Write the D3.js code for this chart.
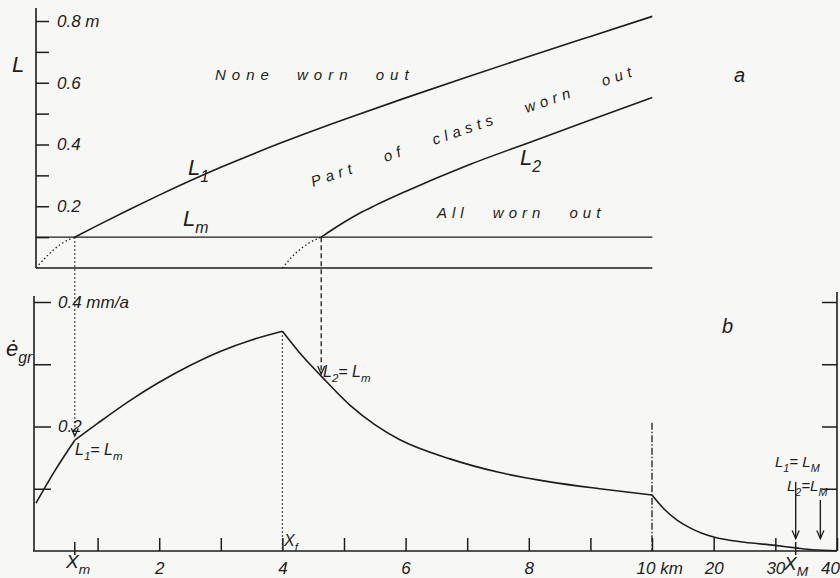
<!DOCTYPE html>
<html>
<head>
<meta charset="utf-8">
<script src="https://cdn.jsdelivr.net/npm/d3@7"></script>
<style>
  body { margin: 0; background: #f7f7f5; }
  svg { display: block; font-family: "Liberation Sans", Arial, sans-serif; font-style: italic; }
  text { fill: #1d1d1d; }
</style>
</head>
<body>
<svg id="chart" width="840" height="578"></svg>
<script>
// ---- data ----
// panel a: clast size L (m) against distance (km)
const lTicks = [0.1, 0.2, 0.3, 0.4, 0.5, 0.6, 0.7, 0.8];
const lTickLabels = ["", "0.2", "", "0.4", "", "0.6", "", "0.8 m"];
const Lm = 0.1;

const l1DotKm = [0, 0.2, 0.4, 0.63];
const l1DotLen = [0, 0.043, 0.077, 0.1];
const l1Km = [0.63, 1, 1.5, 2, 3, 4, 5, 6, 7, 8, 9, 10.05];
const l1Len = [0.1, 0.138, 0.188, 0.236, 0.326, 0.407, 0.481, 0.551, 0.619, 0.685, 0.75, 0.815];

const l2DotKm = [4.0, 4.2, 4.4, 4.63];
const l2DotLen = [0, 0.045, 0.077, 0.1];
const l2Km = [4.63, 5, 5.26, 5.5, 6, 7, 8, 9, 10.05];
const l2Len = [0.1, 0.148, 0.178, 0.202, 0.248, 0.332, 0.406, 0.479, 0.552];

// panel b: erosion rate (mm/a) against distance (km)
const eTicks = [0.1, 0.2, 0.3, 0.4];
const eTickLabels = ["", "0.2", "", "0.4 mm/a"];
const eKm = [0, 0.3, 0.63, 1, 1.5, 2, 2.5, 3, 3.5, 4.0, 4.3, 4.63, 5.1, 5.5, 5.9, 6.72, 7.53, 8.34, 9.15, 10,
             12, 14, 16, 18, 20, 25, 30, 33.3, 36, 40];
const eRate = [0.077, 0.128, 0.178, 0.205, 0.240, 0.271, 0.298, 0.321, 0.339, 0.353, 0.316, 0.281, 0.234, 0.203, 0.179, 0.148, 0.126, 0.111, 0.100, 0.090,
               0.067, 0.050, 0.038, 0.029, 0.0225, 0.014, 0.009, 0.005, 0.002, 0.0005];
const eBreaks = [0.63, 4.0, 10];

const xTicks = [1, 2, 3, 4, 5, 6, 7, 8, 9, 10, 20, 30, 40];
const xTickLabels = ["", "2", "", "4", "", "6", "", "8", "", "10 km", "20", "30", "40"];

const xm = 0.63, xf = 4.0, xL2 = 4.63, xM = 33.3, xM2 = 37.3;

// ---- scales ----
const svg = d3.select("#chart");
const ink = "#1d1d1d";

const x = d3.scaleLinear().domain([0, 10, 40]).range([36, 652, 837]);
const yL = d3.scaleLinear().domain([0, 0.8]).range([268, 21]);
const yE = d3.scaleLinear().domain([0, 0.4]).range([551, 302]);
const eAt = d3.scaleLinear().domain(eKm).range(eRate);

const zip = (a, b) => a.map((d, i) => [d, b[i]]);

const lineL = d3.line().x(d => x(d[0])).y(d => yL(d[1])).curve(d3.curveMonotoneX);
const lineE = d3.line().x(d => x(d[0])).y(d => yE(d[1])).curve(d3.curveMonotoneX);

// ---- panel a ----
const gA = svg.append("g");

gA.append("g")
    .attr("transform", `translate(${x(0)},0)`)
    .call(d3.axisRight(yL).tickValues(lTicks).tickSize(13).tickPadding(8)
      .tickFormat((d, i) => lTickLabels[i]))
    .call(g => g.select(".domain").remove())
    .call(g => g.selectAll("line").attr("stroke", ink).attr("stroke-width", 1.5))
    .call(g => g.selectAll("text").attr("font-size", 17).attr("font-family", null).attr("fill", ink));

gA.append("line").attr("x1", x(0)).attr("x2", x(0)).attr("y1", 8).attr("y2", yL(0))
    .attr("stroke", ink).attr("stroke-width", 1.6);

[0, Lm].forEach(v => gA.append("line")
    .attr("x1", x(0)).attr("x2", x(10.05)).attr("y1", yL(v)).attr("y2", yL(v))
    .attr("stroke", ink).attr("stroke-width", 1.4));

gA.append("path").datum(zip(l1Km, l1Len)).attr("d", lineL)
    .attr("fill", "none").attr("stroke", ink).attr("stroke-width", 1.6);
gA.append("path").datum(zip(l2Km, l2Len)).attr("d", lineL)
    .attr("fill", "none").attr("stroke", ink).attr("stroke-width", 1.6);
[zip(l1DotKm, l1DotLen), zip(l2DotKm, l2DotLen)].forEach(pts =>
  gA.append("path").datum(pts).attr("d", lineL)
    .attr("fill", "none").attr("stroke", ink).attr("stroke-width", 1.3)
    .attr("stroke-dasharray", "1.5,2.5"));

// ---- panel b ----
const gB = svg.append("g");

gB.append("g")
    .attr("transform", `translate(${x(0) - 2},0)`)
    .call(d3.axisRight(yE).tickValues(eTicks).tickSize(17).tickPadding(7)
      .tickFormat((d, i) => eTickLabels[i]))
    .call(g => g.select(".domain").remove())
    .call(g => g.selectAll("line").attr("stroke", ink).attr("stroke-width", 1.5))
    .call(g => g.selectAll("text").attr("font-size", 17).attr("font-family", null).attr("fill", ink));
gB.append("line").attr("x1", x(0) - 2).attr("x2", x(0) - 2).attr("y1", 296).attr("y2", yE(0))
    .attr("stroke", ink).attr("stroke-width", 1.6);

gB.append("g")
    .attr("transform", `translate(${x(40)},0)`)
    .call(d3.axisLeft(yE).tickValues(eTicks).tickSize(15).tickFormat(""))
    .call(g => g.select(".domain").remove())
    .call(g => g.selectAll("line").attr("stroke", ink).attr("stroke-width", 1.5));
gB.append("line").attr("x1", x(40)).attr("x2", x(40)).attr("y1", 292).attr("y2", yE(0))
    .attr("stroke", ink).attr("stroke-width", 1.6);

gB.append("g")
    .attr("transform", `translate(0,${yE(0)})`)
    .call(d3.axisBottom(x).tickValues(xTicks).tickSize(-13).tickPadding(11)
      .tickFormat((d, i) => xTickLabels[i]))
    .call(g => g.select(".domain").remove())
    .call(g => g.selectAll("line").attr("stroke", ink).attr("stroke-width", 1.5))
    .call(g => g.selectAll("text").attr("font-size", 17).attr("font-family", null).attr("fill", ink))
    .call(g => g.selectAll("text").filter(d => d === 10).attr("text-anchor", "start").attr("dx", -16))
    .call(g => g.selectAll("text").filter(d => d === 40).attr("dx", -7));
gB.append("line").attr("x1", x(0) - 3).attr("x2", x(40)).attr("y1", yE(0)).attr("y2", yE(0))
    .attr("stroke", ink).attr("stroke-width", 1.6);

// crossing ticks at Xm and XM
[xm, xM].forEach(v => gB.append("line")
    .attr("x1", x(v)).attr("x2", x(v)).attr("y1", yE(0) - 9).attr("y2", yE(0) + 4)
    .attr("stroke", ink).attr("stroke-width", 1.5));

// erosion-rate curve, drawn in pieces so the kinks stay sharp
const ePts = zip(eKm, eRate);
const cuts = [0, ...eBreaks, 40];
d3.pairs(cuts).forEach(([a, b]) =>
  gB.append("path").datum(ePts.filter(d => d[0] >= a && d[0] <= b)).attr("d", lineE)
    .attr("fill", "none").attr("stroke", ink).attr("stroke-width", 1.6));

// ---- connecting lines and arrows ----
function vline(xv, y1, y2, dash, w) {
  svg.append("line").attr("x1", x(xv)).attr("x2", x(xv)).attr("y1", y1).attr("y2", y2)
    .attr("stroke", ink).attr("stroke-width", w || 1.3).attr("stroke-dasharray", dash);
}
function arrowHead(xv, yTip) {
  const px = x(xv);
  svg.append("path").attr("d", `M${px - 3.5},${yTip - 8}L${px},${yTip}L${px + 3.5},${yTip - 8}`)
    .attr("fill", "none").attr("stroke", ink).attr("stroke-width", 1.3);
}

vline(xm, yL(Lm), yE(eAt(xm)) - 4, "1.5,2.5");
arrowHead(xm, yE(eAt(xm)) - 4);
vline(xL2, yL(Lm), yE(eAt(xL2)) - 2, "5,3");
arrowHead(xL2, yE(eAt(xL2)) - 2);
vline(xf, yE(eAt(xf)), yE(0), "1.5,2.5");
vline(10, yE(0.206), yE(0), "7,2,1.5,2");
vline(xM, yE(0.111), yE(0.02), null, 1.4);
arrowHead(xM, yE(0.02));
vline(xM2, yE(0.082), yE(0.02), null, 1.4);
arrowHead(xM2, yE(0.02));

// ---- text ----
function rich(px, py, parts, size) {
  const t = svg.append("text").attr("x", px).attr("y", py).attr("font-size", size);
  let down = false;
  parts.forEach(([s, sub]) => {
    const ts = t.append("tspan").text(s);
    if (sub) {
      ts.attr("font-size", size * 0.72);
      if (!down) { ts.attr("dy", size * 0.3); down = true; }
    } else if (down) { ts.attr("dy", -size * 0.3); down = false; }
  });
  return t;
}

rich(12, 72, [["L"]], 22);
rich(6, 356, [["ė"], ["gr", true]], 22);
rich(183, 226, [["L"], ["m", true]], 22);
rich(188, 175, [["L"], ["1", true]], 22);
rich(520, 165, [["L"], ["2", true]], 22);
rich(734, 82, [["a"]], 20);
rich(722, 333, [["b"]], 20);

svg.append("text").attr("x", 215).attr("y", 80).attr("font-size", 15)
  .attr("letter-spacing", 6).attr("word-spacing", 12).text("None worn out");
svg.append("text").attr("x", 437).attr("y", 218).attr("font-size", 15)
  .attr("letter-spacing", 5).attr("word-spacing", 15).text("All worn out");
svg.append("text").attr("transform", "translate(313,187) rotate(-19.1)").attr("font-size", 15)
  .attr("letter-spacing", 5).attr("word-spacing", 20).text("Part of clasts worn out");

rich(75, 455, [["L"], ["1", true], ["= L"], ["m", true]], 16);
rich(323, 377, [["L"], ["2", true], ["= L"], ["m", true]], 16);
rich(775, 467, [["L"], ["1", true], ["= L"], ["M", true]], 15);
rich(787, 491, [["L"], ["2", true], ["=L"], ["M", true]], 15);

rich(66, 568, [["X"], ["m", true]], 19);
rich(284, 546, [["X"], ["f", true]], 16);
rich(784, 570, [["X"], ["M", true]], 19);
</script>
</body>
</html>
